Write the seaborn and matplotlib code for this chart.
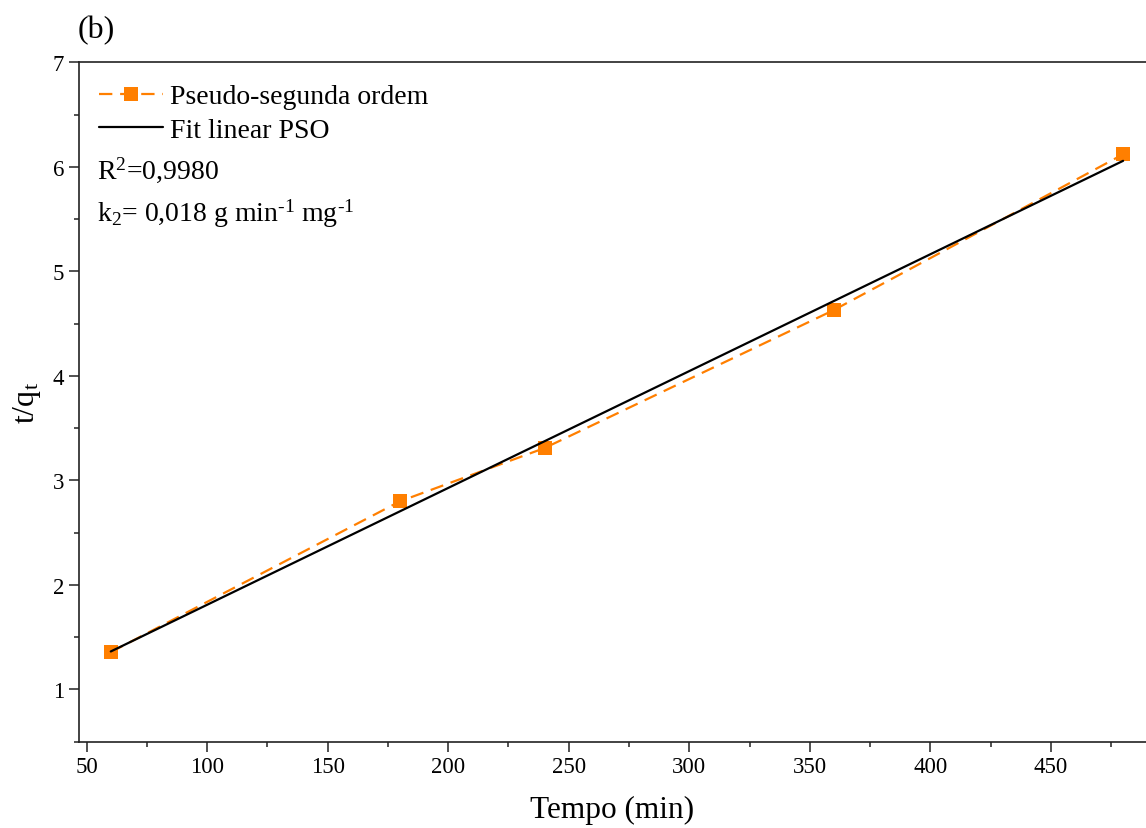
import numpy as np
import pandas as pd
import matplotlib
matplotlib.use("Agg")
import matplotlib.pyplot as plt
import seaborn as sns
from matplotlib.ticker import MultipleLocator

tempo = [60, 180, 240, 360, 480]
t_qt = [1.357, 2.80, 3.31, 4.63, 6.12]
series_label = "Pseudo-segunda ordem"
fit_label = "Fit linear PSO"
r2_text = "R$^{2}$=0,9980"
k2_text = r"k$_{2}$= 0,018 g min$^{\text{-1}}$ mg$^{\text{-1}}$"

sns.set_theme(style="ticks")
plt.rcParams['font.family'] = ['Liberation Serif', 'DejaVu Serif']
plt.rcParams['mathtext.fontset'] = 'custom'
plt.rcParams['mathtext.rm'] = 'Liberation Serif'
plt.rcParams['mathtext.it'] = 'Liberation Serif'
plt.rcParams['axes.unicode_minus'] = False
plt.rcParams['text.color'] = 'black'
plt.rcParams['axes.labelcolor'] = 'black'

fig = plt.figure(figsize=(11.46, 8.29), dpi=100)
ax = fig.add_axes([0.0687, 0.1041, 0.9313, 0.8195])

df = pd.DataFrame({"x": tempo, "y": t_qt})
slope, intercept = np.polyfit(tempo, t_qt, 1)
fit_x = [tempo[0], tempo[-1]]
fit_y = [slope * v + intercept for v in fit_x]

orange = "#FF7F00"
sns.lineplot(data=df, x="x", y="y", ax=ax, color=orange, linestyle=(0, (6, 3.5)),
             linewidth=1.6, marker="s", markersize=10.5, markeredgewidth=0,
             label=series_label)
sns.lineplot(x=fit_x, y=fit_y, ax=ax, color="black", linewidth=1.6, label=fit_label)

ax.set_xlim(46.7, 489.5)
ax.set_ylim(0.5, 7)
ax.xaxis.set_major_locator(MultipleLocator(50))
ax.xaxis.set_minor_locator(MultipleLocator(25))
ax.yaxis.set_major_locator(MultipleLocator(1))
ax.yaxis.set_minor_locator(MultipleLocator(0.5))
ax.tick_params(which="major", direction="out", length=7, width=1.1, labelsize=16.5, colors="#222222", labelcolor="black")
ax.tick_params(which="minor", direction="out", length=3.5, width=1.1, colors="#222222")
ax.spines["right"].set_visible(False)
for s in ["left", "top", "bottom"]:
    ax.spines[s].set_linewidth(1.2)
    ax.spines[s].set_color("#222222")

ax.set_xlabel("Tempo (min)", fontsize=22.5, labelpad=13)
ax.set_ylabel("t/q$_{t}$", fontsize=23, labelpad=7)

leg = ax.legend(loc="upper left", bbox_to_anchor=(-0.004, 1.005), frameon=False,
                fontsize=20, handlelength=2.3, handletextpad=0.25, labelspacing=0.3,
                borderaxespad=0.5)
ax.text(0.0175, 0.843, r2_text, transform=ax.transAxes, fontsize=20, va="center", ha="left")
ax.text(0.0175, 0.779, k2_text, transform=ax.transAxes, fontsize=20, va="center", ha="left")

fig.text(0.068, 0.963, "(b)", fontsize=23, ha="left", va="center")

fig.savefig("out.png", dpi=100)
